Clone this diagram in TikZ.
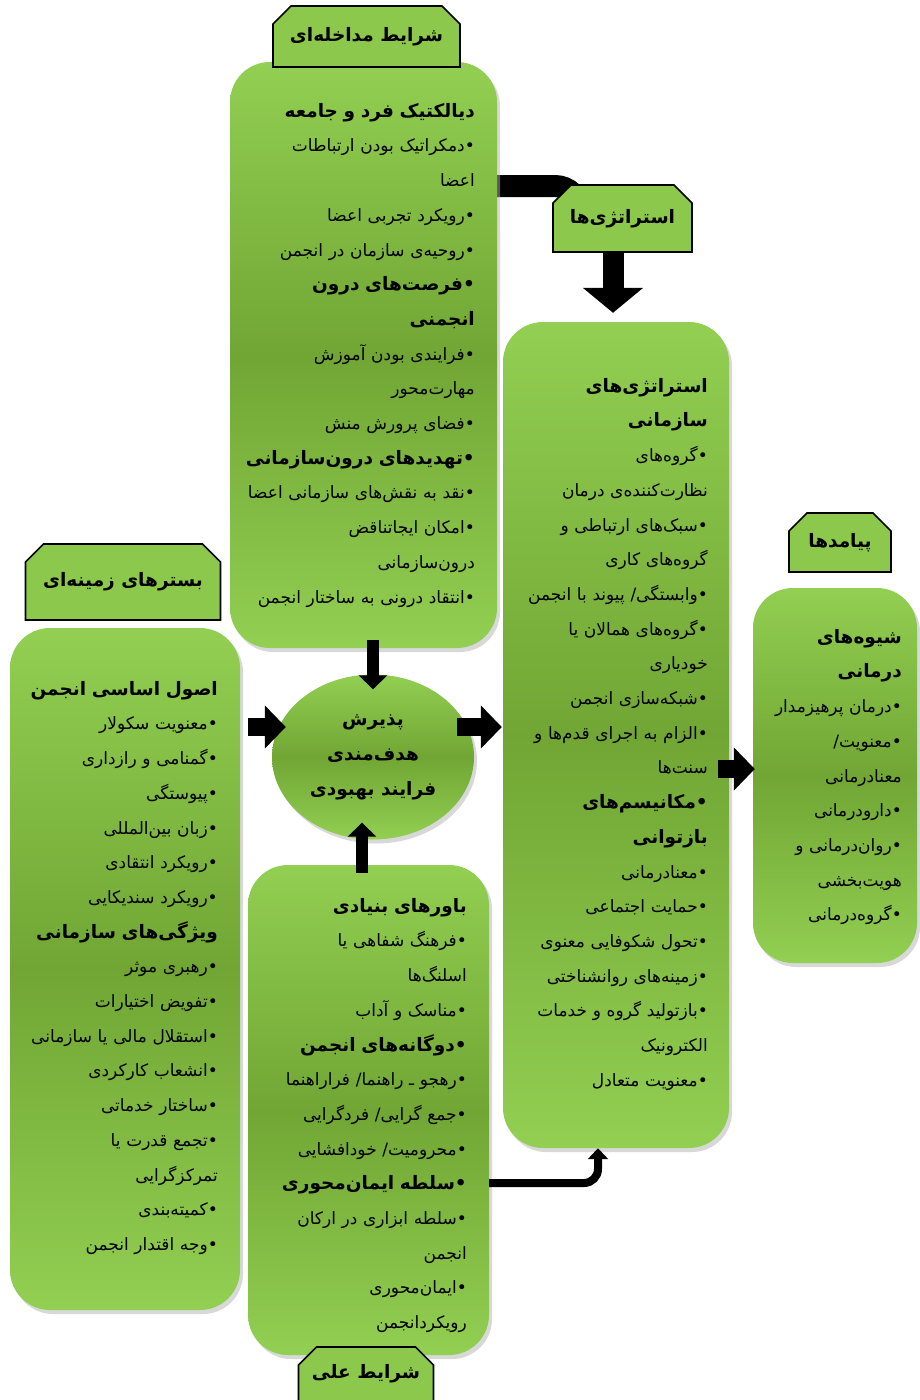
\documentclass[tikz,border=0pt]{standalone}
\usepackage{fontspec}
\usepackage{tikz}
\usetikzlibrary{arrows.meta}
\usetikzlibrary{positioning}
\usetikzlibrary{shapes.geometric}
\usetikzlibrary{shapes.misc}
\usetikzlibrary{shadows}
\usetikzlibrary{backgrounds}
\TeXXeTstate=1
\newfontfamily\persianfont[Script=Arabic]{DejaVu Sans}
\newcommand{\faline}[1]{\beginR #1\endR}
\newcommand{\fahead}[1]{{\bfseries\fontsize{18.5}{34.7}\selectfont\beginR #1\endR}}
\definecolor{panellight}{HTML}{92CF52}
\definecolor{paneldark}{HTML}{71A634}
\definecolor{taggreen}{HTML}{8CC84B}
\tikzset{panel/.style = {rounded corners=40pt, top color=panellight, bottom color=panellight, middle color=paneldark, drop shadow={shadow xshift=3pt, shadow yshift=-4pt, fill=black!30}, inner sep=0}}
\tikzset{hub/.style = {ellipse, top color=panellight, bottom color=panellight, middle color=paneldark, drop shadow={shadow xshift=3pt, shadow yshift=-4pt, fill=black!30}, inner sep=0, align=center, font=\persianfont\bfseries\fontsize{18.5}{35}\selectfont}}
\tikzset{tag/.style = {chamfered rectangle, chamfered rectangle corners={north west, north east}, chamfered rectangle xsep=9pt, chamfered rectangle ysep=9pt, draw, line width=1.6pt, fill=taggreen, inner sep=0, font=\persianfont\bfseries\fontsize{18.5}{22}\selectfont}}
\tikzset{bodytext/.style = {anchor=north east, inner sep=0, align=right, font=\persianfont\fontsize{17}{34.7}\selectfont}}
\tikzset{bigarrow/.style = {line width=18pt, -{Triangle[width=42pt, length=21pt]}}}
\tikzset{smallarrow/.style = {line width=12pt, -{Triangle[width=28pt, length=14pt]}}}
\tikzset{tagarrow/.style = {line width=21pt, -{Triangle[width=59pt, length=25pt]}}}
\tikzset{link/.style = {line width=22pt}}
\tikzset{linkarrow/.style = {line width=8pt, -{Triangle[width=20pt, length=11pt]}}}

\begin{document}
\begin{tikzpicture}[x=1pt, y=-1pt]
    \useasboundingbox (0,0) rectangle (919,1400);

    % panels
    \node[panel, minimum width=267pt, minimum height=586pt] (intervPanel) at (363.5,355) {};
    \node[panel, minimum width=226pt, minimum height=826pt] (stratPanel) at (616,735) {};
    \node[panel, minimum width=164pt, minimum height=375pt] (outPanel) at (835,775.5) {};
    \node[panel, minimum width=230pt, minimum height=682pt] (contextPanel) at (125,969) {};
    \node[panel, minimum width=241pt, minimum height=490pt] (causalPanel) at (368.5,1110) {};
    \node[hub, minimum width=202pt, minimum height=165pt] (core) at (373,757) {\faline{پذیرش}\\ \faline{هدف^^^^200cمندی}\\ \faline{فرایند بهبودی}};

    % tags
    \node[tag, minimum width=187pt, minimum height=61pt] (intervTag) at (366.5,36.5) {\faline{شرایط مداخله^^^^200cای}};
    \node[tag, minimum width=139pt, minimum height=67pt] (stratTag) at (622.5,218.5) {\faline{استراتژی^^^^200cها}};
    \node[tag, minimum width=102pt, minimum height=59pt] (outTag) at (840,542.5) {\faline{پیامدها}};
    \node[tag, minimum width=195pt, minimum height=76pt] (contextTag) at (123,582) {\faline{بسترهای زمینه^^^^200cای}};
    \node[tag, minimum width=135pt, minimum height=54pt] (causalTag) at (366,1374) {\faline{شرایط علی}};

    \begin{scope}[on background layer]
      \draw[link, rounded corners=25pt] (intervPanel.east |- 0,186) -| (stratTag.center -| 580,0);
    \end{scope}

    % texts
    \node[bodytext, text width=240pt] (intervText) at (475,103) {\fahead{دیالکتیک فرد و جامعه}\\
      \faline{•دمکراتیک بودن ارتباطات}\\
      \faline{اعضا}\\
      \faline{•رویکرد تجربی اعضا}\\
      \faline{•روحیه^^^^200cی سازمان در انجمن}\\
      \fahead{•فرصت^^^^200cهای درون}\\
      \fahead{انجمنی}\\
      \faline{•فرایندی بودن آموزش}\\
      \faline{مهارت^^^^200cمحور}\\
      \faline{•فضای پرورش منش}\\
      \fahead{•تهدیدهای درون^^^^200cسازمانی}\\
      \faline{•نقد به نقش^^^^200cهای سازمانی اعضا}\\
      \faline{•امکان ایجاتناقض}\\
      \faline{درون^^^^200cسازمانی}\\
      \faline{•انتقاد درونی به ساختار انجمن}};

    \node[bodytext, text width=200pt] (stratText) at (708,378) {\fahead{استراتژی^^^^200cهای}\\
      \fahead{سازمانی}\\
      \faline{•گروه^^^^200cهای}\\
      \faline{نظارت^^^^200cکننده^^^^200cی درمان}\\
      \faline{•سبک^^^^200cهای ارتباطی و}\\
      \faline{گروه^^^^200cهای کاری}\\
      \faline{•وابستگی/ پیوند با انجمن}\\
      \faline{•گروه^^^^200cهای همالان یا}\\
      \faline{خودیاری}\\
      \faline{•شبکه^^^^200cسازی انجمن}\\
      \faline{•الزام به اجرای قدم^^^^200cها و}\\
      \faline{سنت^^^^200cها}\\
      \fahead{•مکانیسم^^^^200cهای}\\
      \fahead{بازتوانی}\\
      \faline{•معنادرمانی}\\
      \faline{•حمایت اجتماعی}\\
      \faline{•تحول شکوفایی معنوی}\\
      \faline{•زمینه^^^^200cهای روانشناختی}\\
      \faline{•بازتولید گروه و خدمات}\\
      \faline{الکترونیک}\\
      \faline{•معنویت متعادل}};

    \node[bodytext, text width=150pt] (outText) at (902,629) {\fahead{شیوه^^^^200cهای}\\
      \fahead{درمانی}\\
      \faline{•درمان پرهیزمدار}\\
      \faline{•معنویت/}\\
      \faline{معنادرمانی}\\
      \faline{•دارودرمانی}\\
      \faline{•روان^^^^200cدرمانی و}\\
      \faline{هویت^^^^200cبخشی}\\
      \faline{•گروه^^^^200cدرمانی}};

    \node[bodytext, text width=210pt] (contextText) at (218,681) {\fahead{اصول اساسی انجمن}\\
      \faline{•معنویت سکولار}\\
      \faline{•گمنامی و رازداری}\\
      \faline{•پیوستگی}\\
      \faline{•زبان بین^^^^200cالمللی}\\
      \faline{•رویکرد انتقادی}\\
      \faline{•رویکرد سندیکایی}\\
      \fahead{ویژگی^^^^200cهای سازمانی}\\
      \faline{•رهبری موثر}\\
      \faline{•تفویض اختیارات}\\
      \faline{•استقلال مالی یا سازمانی}\\
      \faline{•انشعاب کارکردی}\\
      \faline{•ساختار خدماتی}\\
      \faline{•تجمع قدرت یا}\\
      \faline{تمرکزگرایی}\\
      \faline{•کمیته^^^^200cبندی}\\
      \faline{•وجه اقتدار انجمن}};

    \node[bodytext, text width=215pt] (causalText) at (467,898) {\fahead{باورهای بنیادی}\\
      \faline{•فرهنگ شفاهی یا}\\
      \faline{اسلنگ^^^^200cها}\\
      \faline{•مناسک و آداب}\\
      \fahead{•دوگانه^^^^200cهای انجمن}\\
      \faline{•رهجو ـ راهنما/ فراراهنما}\\
      \faline{•جمع گرایی/ فردگرایی}\\
      \faline{•محرومیت/ خودافشایی}\\
      \fahead{•سلطه ایمان^^^^200cمحوری}\\
      \faline{•سلطه ابزاری در ارکان}\\
      \faline{انجمن}\\
      \faline{•ایمان^^^^200cمحوری}\\
      \faline{رویکردانجمن}};

    % arrows
    \draw[smallarrow, shorten <=-8pt, shorten >=-15pt] (core.north |- intervPanel.south) -- (core.north);
    \draw[smallarrow, shorten <=-8pt, shorten >=-17pt] (causalPanel.north -| 362,0) -- (core.south -| 362,0);
    \draw[bigarrow, shorten <=8pt, shorten >=-14pt] (contextPanel.east |- 0,727) -- (core.west |- 0,727);
    \draw[bigarrow, shorten <=-17pt, shorten >=1pt] (core.east |- 0,727) -- (stratPanel.west |- 0,727);
    \draw[bigarrow, shorten <=-11pt, shorten >=-2pt] (stratPanel.east |- 0,769) -- (outPanel.west |- 0,769);
    \draw[tagarrow, shorten >=9pt] (stratTag.south -| 613,0) -- (stratPanel.north -| 613,0);
    \draw[linkarrow, rounded corners=14pt] (causalPanel.east |- 0,1183) -| (stratPanel.south -| 598,0);
\end{tikzpicture}
\end{document}
